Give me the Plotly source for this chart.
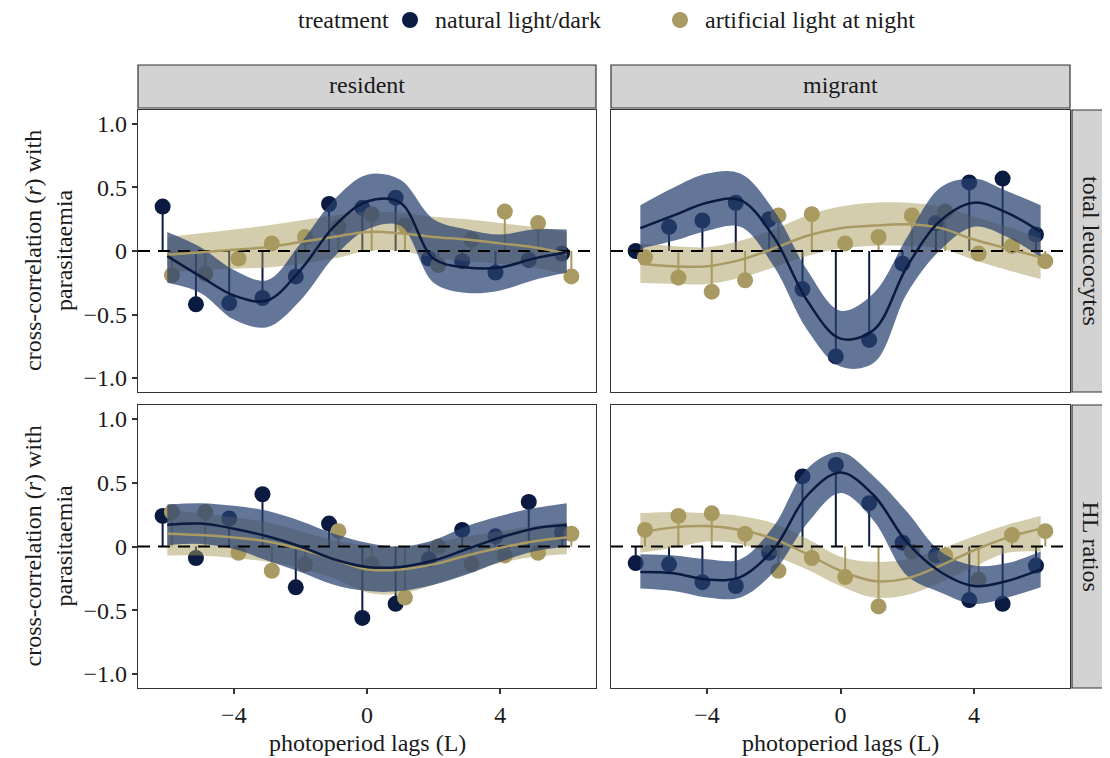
import plotly.graph_objects as go

# ---------------- data ----------------
lags = [-6, -5, -4, -3, -2, -1, 0, 1, 2, 3, 4, 5, 6]
x_ticks = [-4, 0, 4]
x_tick_text = ["\u22124", "0", "4"]
y_ticks = [-1.0, -0.5, 0, 0.5, 1.0]
y_tick_text = ["\u22121.0", "\u22120.5", "0", "0.5", "1.0"]

treatments = ["natural light/dark", "artificial light at night"]
columns = ["resident", "migrant"]
rows = ["total leucocytes", "HL ratios"]

# observed cross-correlations (points)
res_leu_nat = [0.35, -0.42, -0.41, -0.37, -0.20, 0.37, 0.34, 0.42, -0.06, -0.08, -0.17, -0.07, -0.02]
res_leu_alan = [-0.19, -0.18, -0.06, 0.06, 0.11, 0.19, 0.29, 0.20, -0.11, 0.09, 0.31, 0.22, -0.20]
mig_leu_nat = [0.00, 0.19, 0.24, 0.38, 0.25, -0.30, -0.83, -0.70, -0.10, 0.22, 0.54, 0.57, 0.13]
mig_leu_alan = [-0.05, -0.21, -0.32, -0.23, 0.28, 0.29, 0.06, 0.11, 0.28, 0.31, -0.02, 0.04, -0.08]
res_hl_nat = [0.24, -0.09, 0.22, 0.41, -0.32, 0.18, -0.56, -0.45, -0.10, 0.13, 0.08, 0.35, 0.11]
res_hl_alan = [0.27, 0.27, -0.05, -0.19, -0.14, 0.12, -0.14, -0.40, 0.00, -0.14, -0.07, -0.05, 0.10]
mig_hl_nat = [-0.13, -0.14, -0.28, -0.31, -0.05, 0.55, 0.64, 0.34, 0.03, -0.07, -0.42, -0.45, -0.15]
mig_hl_alan = [0.13, 0.24, 0.26, 0.10, -0.19, -0.09, -0.24, -0.47, -0.04, -0.07, -0.26, 0.09, 0.12]

# smoothed fits and confidence bands (read at integer lags)
res_leu_nat_fit = [-0.04, -0.20, -0.35, -0.39, -0.15, 0.19, 0.39, 0.38, -0.06, -0.13, -0.13, -0.06, -0.01]
res_leu_nat_hi = [0.15, 0.03, -0.15, -0.23, 0.06, 0.40, 0.60, 0.56, 0.25, 0.17, 0.13, 0.17, 0.17]
res_leu_nat_lo = [-0.25, -0.33, -0.54, -0.60, -0.39, -0.05, 0.17, 0.20, -0.25, -0.33, -0.31, -0.23, -0.17]
res_leu_alan_fit = [-0.03, -0.01, 0.01, 0.03, 0.07, 0.11, 0.15, 0.14, 0.11, 0.09, 0.06, 0.03, -0.02]
res_leu_alan_hi = [0.11, 0.14, 0.17, 0.20, 0.24, 0.28, 0.31, 0.30, 0.27, 0.25, 0.22, 0.19, 0.15]
res_leu_alan_lo = [-0.17, -0.15, -0.14, -0.13, -0.10, -0.06, 0.00, 0.00, -0.05, -0.08, -0.10, -0.13, -0.19]

mig_leu_nat_fit = [0.18, 0.28, 0.38, 0.40, 0.11, -0.39, -0.69, -0.62, -0.12, 0.24, 0.38, 0.30, 0.15]
mig_leu_nat_hi = [0.36, 0.50, 0.61, 0.61, 0.32, -0.15, -0.47, -0.33, 0.11, 0.50, 0.57, 0.47, 0.36]
mig_leu_nat_lo = [0.02, 0.08, 0.16, 0.19, -0.12, -0.62, -0.91, -0.88, -0.33, 0.01, 0.19, 0.11, -0.05]
mig_leu_alan_fit = [-0.10, -0.12, -0.12, -0.07, 0.02, 0.12, 0.18, 0.20, 0.21, 0.18, 0.09, 0.02, -0.05]
mig_leu_alan_hi = [0.06, 0.04, 0.03, 0.08, 0.17, 0.28, 0.35, 0.38, 0.38, 0.35, 0.27, 0.19, 0.10]
mig_leu_alan_lo = [-0.25, -0.26, -0.26, -0.21, -0.13, -0.04, 0.02, 0.04, 0.04, 0.02, -0.07, -0.15, -0.22]

res_hl_nat_fit = [0.17, 0.18, 0.14, 0.08, 0.00, -0.10, -0.16, -0.16, -0.11, -0.02, 0.07, 0.14, 0.17]
res_hl_nat_hi = [0.33, 0.34, 0.32, 0.28, 0.20, 0.10, 0.03, 0.00, 0.05, 0.16, 0.24, 0.30, 0.34]
res_hl_nat_lo = [0.01, 0.02, -0.02, -0.11, -0.20, -0.30, -0.35, -0.35, -0.30, -0.22, -0.12, -0.04, 0.00]
res_hl_alan_fit = [0.10, 0.09, 0.07, 0.04, -0.02, -0.10, -0.18, -0.18, -0.14, -0.07, -0.01, 0.04, 0.07]
res_hl_alan_hi = [0.29, 0.26, 0.23, 0.19, 0.12, 0.05, 0.01, 0.00, 0.03, 0.08, 0.12, 0.16, 0.19]
res_hl_alan_lo = [-0.07, -0.07, -0.09, -0.12, -0.17, -0.25, -0.36, -0.37, -0.30, -0.21, -0.13, -0.08, -0.06]

mig_hl_nat_fit = [-0.20, -0.21, -0.26, -0.24, -0.02, 0.40, 0.58, 0.40, 0.03, -0.20, -0.31, -0.27, -0.18]
mig_hl_nat_hi = [-0.06, -0.07, -0.10, -0.10, 0.16, 0.61, 0.74, 0.55, 0.27, -0.04, -0.15, -0.13, -0.04]
mig_hl_nat_lo = [-0.33, -0.35, -0.40, -0.40, -0.20, 0.18, 0.42, 0.20, -0.23, -0.36, -0.45, -0.40, -0.32]
mig_hl_alan_fit = [0.11, 0.15, 0.16, 0.13, 0.06, -0.06, -0.19, -0.27, -0.25, -0.15, -0.03, 0.07, 0.14]
mig_hl_alan_hi = [0.26, 0.27, 0.26, 0.24, 0.18, 0.06, -0.08, -0.12, -0.10, -0.02, 0.08, 0.17, 0.24]
mig_hl_alan_lo = [-0.05, -0.01, 0.04, 0.02, -0.07, -0.18, -0.31, -0.40, -0.38, -0.28, -0.16, -0.05, -0.04]

# ---------------- styling ----------------
FONT = "Liberation Serif"
FS = 24
TXT = "#1a1a1a"
NAVY = "#0b1a40"
TAN = "#a89a62"
NAVY_BAND = "rgba(40,65,112,0.72)"
TAN_BAND = "rgba(168,154,92,0.5)"
DODGE = 0.14
OFF = 8               # page offset of the plot div
W, H = 1102, 750

def px_x(p):
    return (p - OFF) / W

def px_y(p):
    return 1 - (p - OFF) / H

xdom = [(px_x(138), px_x(596)), (px_x(611), px_x(1070))]
ydom = [(px_y(392), px_y(110)), (px_y(688), px_y(405))]

panels = [
    (0, 0, res_leu_nat, res_leu_alan, res_leu_nat_fit, res_leu_nat_hi, res_leu_nat_lo,
     res_leu_alan_fit, res_leu_alan_hi, res_leu_alan_lo),
    (0, 1, mig_leu_nat, mig_leu_alan, mig_leu_nat_fit, mig_leu_nat_hi, mig_leu_nat_lo,
     mig_leu_alan_fit, mig_leu_alan_hi, mig_leu_alan_lo),
    (1, 0, res_hl_nat, res_hl_alan, res_hl_nat_fit, res_hl_nat_hi, res_hl_nat_lo,
     res_hl_alan_fit, res_hl_alan_hi, res_hl_alan_lo),
    (1, 1, mig_hl_nat, mig_hl_alan, mig_hl_nat_fit, mig_hl_nat_hi, mig_hl_nat_lo,
     mig_hl_alan_fit, mig_hl_alan_hi, mig_hl_alan_lo),
]

fig = go.Figure()

def stems(xs, ys):
    sx, sy = [], []
    for a, b in zip(xs, ys):
        sx += [a, a, None]
        sy += [0, b, None]
    return sx, sy

for i, (r, c, nat, alan, nf, nh, nl, af, ah, al) in enumerate(panels):
    k = i + 1
    xa = "x" if k == 1 else f"x{k}"
    ya = "y" if k == 1 else f"y{k}"
    xn = [l - DODGE for l in lags]
    xt = [l + DODGE for l in lags]
    for xs, ys, col in [(xn, nat, NAVY), (xt, alan, TAN)]:
        sx, sy = stems(xs, ys)
        fig.add_trace(go.Scatter(x=sx, y=sy, mode="lines", line=dict(color=col, width=2),
                                 xaxis=xa, yaxis=ya, showlegend=False, hoverinfo="skip"))
    for xs, ys, col, name in [(xn, nat, NAVY, treatments[0]), (xt, alan, TAN, treatments[1])]:
        fig.add_trace(go.Scatter(x=xs, y=ys, mode="markers", name=name,
                                 marker=dict(color=col, size=16, line=dict(width=0)),
                                 xaxis=xa, yaxis=ya, showlegend=False))
    for lo, hi, band in [(al, ah, TAN_BAND), (nl, nh, NAVY_BAND)]:
        fig.add_trace(go.Scatter(x=lags, y=lo, mode="lines", line=dict(width=0, shape="spline"),
                                 xaxis=xa, yaxis=ya, showlegend=False, hoverinfo="skip"))
        fig.add_trace(go.Scatter(x=lags, y=hi, mode="lines", line=dict(width=0, shape="spline"),
                                 fill="tonexty", fillcolor=band,
                                 xaxis=xa, yaxis=ya, showlegend=False, hoverinfo="skip"))
    fig.add_trace(go.Scatter(x=[-6.88, 6.88], y=[0, 0], mode="lines",
                             line=dict(color="black", width=2, dash="12px,8px"),
                             xaxis=xa, yaxis=ya, showlegend=False, hoverinfo="skip"))
    for fit, col in [(af, TAN), (nf, NAVY)]:
        fig.add_trace(go.Scatter(x=lags, y=fit, mode="lines", line=dict(color=col, width=2.5, shape="spline"),
                                 xaxis=xa, yaxis=ya, showlegend=False, hoverinfo="skip"))

    fig.update_layout(**{
        ("xaxis" if k == 1 else f"xaxis{k}"): dict(
            domain=list(xdom[c]), range=[-6.88, 6.88], anchor=ya,
            tickvals=x_ticks, ticktext=x_tick_text, showticklabels=(r == 1),
            ticks="outside" if r == 1 else "", ticklen=5, tickwidth=1.5, tickcolor="#333333",
            showline=True, mirror=True, linecolor="#333333", linewidth=1.2,
            showgrid=False, zeroline=False,
            tickfont=dict(family=FONT, size=FS, color=TXT),
        ),
        ("yaxis" if k == 1 else f"yaxis{k}"): dict(
            domain=list(ydom[r]), range=[-1.11, 1.11], anchor=xa,
            tickvals=y_ticks, ticktext=y_tick_text, showticklabels=(c == 0),
            ticks="outside" if c == 0 else "", ticklen=5, tickwidth=1.5, tickcolor="#333333",
            showline=True, mirror=True, linecolor="#333333", linewidth=1.2,
            showgrid=False, zeroline=False,
            tickfont=dict(family=FONT, size=FS, color=TXT),
        ),
    })

# ---- legend (key glyphs on an overlay axis spanning the page, in pixels) ----
legend_dot_x = [410, 680]
legend_text_x = [433, 703]
legend_y = 20
fig.add_trace(go.Scatter(x=legend_dot_x, y=[legend_y, legend_y], mode="markers",
                         marker=dict(color=[NAVY, TAN], size=16),
                         xaxis="x5", yaxis="y5", showlegend=False, hoverinfo="skip",
                         cliponaxis=False))
fig.update_layout(
    xaxis5=dict(domain=[0, 1], range=[OFF, OFF + W], visible=False, fixedrange=True, anchor="y5"),
    yaxis5=dict(domain=[0, 1], range=[OFF + H, OFF], visible=False, fixedrange=True, anchor="x5"),
)

shapes = []
annotations = []

def ann(text, x, y, angle=0, xanchor="center"):
    return dict(text=text, xref="paper", yref="paper", x=x, y=y, textangle=angle,
                xanchor=xanchor, yanchor="middle", showarrow=False,
                font=dict(family=FONT, size=FS, color=TXT))

for c in range(2):
    shapes.append(dict(type="rect", xref="paper", yref="paper",
                       x0=xdom[c][0], x1=xdom[c][1], y0=px_y(108), y1=px_y(65),
                       fillcolor="#d3d3d3", line=dict(color="#333333", width=1.2)))
    cx = (xdom[c][0] + xdom[c][1]) / 2
    annotations.append(ann(columns[c], cx, px_y(85)))
    annotations.append(ann("photoperiod lags (L)", cx, px_y(743)))
for r in range(2):
    shapes.append(dict(type="rect", xref="paper", yref="paper",
                       x0=px_x(1072), x1=px_x(1109.5), y0=ydom[r][0], y1=ydom[r][1],
                       fillcolor="#d3d3d3", line=dict(color="#333333", width=1.2)))
    cy = (ydom[r][0] + ydom[r][1]) / 2
    annotations.append(ann(rows[r], px_x(1091), cy, 90))
    annotations.append(ann("cross-correlation (<i>r</i>) with<br>parasitaemia", px_x(48), cy, -90))

annotations.append(ann("treatment", px_x(343), px_y(legend_y)))
for t, tx in zip(treatments, legend_text_x):
    annotations.append(ann(t, px_x(tx), px_y(legend_y), xanchor="left"))

fig.update_layout(
    width=W, height=H,
    margin=dict(l=0, r=0, t=0, b=0),
    paper_bgcolor="white", plot_bgcolor="rgba(0,0,0,0)",
    font=dict(family=FONT, size=FS, color=TXT),
    shapes=shapes, annotations=annotations,
    showlegend=False,
)

fig.write_html("out.html")
